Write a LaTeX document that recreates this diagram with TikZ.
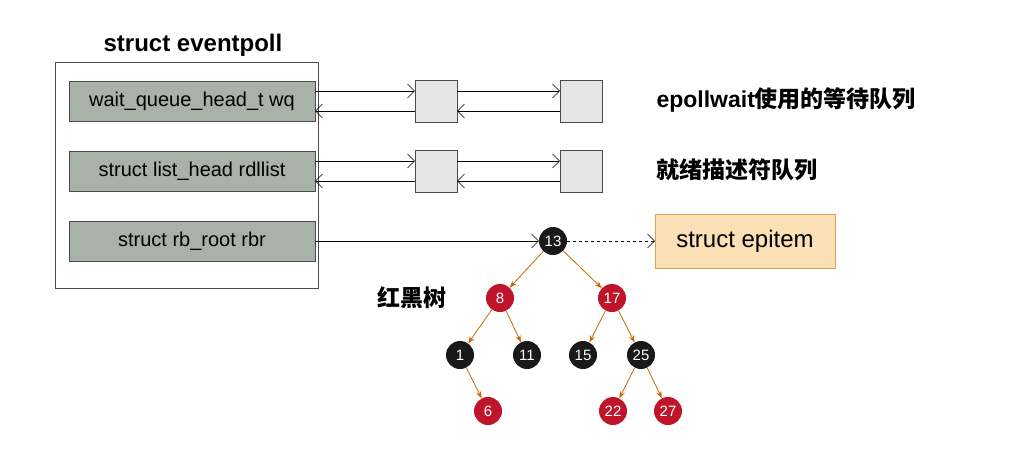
\documentclass[tikz,border=0pt]{standalone}
\usepackage{fontspec}
\setmainfont{Liberation Sans}
\newfontfamily\cjk{Noto Sans CJK SC}
\usetikzlibrary{arrows.meta}
\definecolor{fieldgray}{HTML}{A9B2A9}
\definecolor{redblk}{HTML}{C0142A}
\definecolor{epifill}{HTML}{FBE0B6}
\definecolor{epiline}{HTML}{E0A050}
\tikzset{
 field/.style={draw=black!70,fill=fieldgray,minimum width=246pt,minimum height=40pt,text height=14pt,text depth=4pt,font=\fontsize{20}{20}\selectfont},
 cell/.style={draw=black!70,fill=black!10,minimum size=42pt},
 blk/.style={circle,fill=black!90,text=white,minimum size=28pt,inner sep=0pt,font=\fontsize{15}{15}\selectfont},
 rd/.style={blk,fill=redblk},
 tedge/.style={-{Stealth[length=7pt]},draw=orange!80!black,thick},
 link/.style={-{Straight Barb[length=7pt]},thin}
}
\begin{document}
\begin{tikzpicture}[x=1pt,y=-1pt]
\useasboundingbox (0,0) rectangle (1013,450);

% eventpoll
\node[font=\fontsize{24}{24}\selectfont\bfseries] (title) at (193,45) {struct eventpoll};
\draw[black!70] (55,62) rectangle (318,288);
\node[field] (wq) at (192,101) {wait\_queue\_head\_t wq};
\node[field] (rdl) at (192,171) {struct list\_head rdllist};
\node[field] (rbr) at (192,241) {struct rb\_root rbr};

% lists
\node[cell] (wa) at (436,101) {};
\node[cell] (wb) at (581,101) {};
\node[cell] (ra) at (436,171) {};
\node[cell] (rb) at (581,171) {};
\foreach \l/\a/\b in {wq/wa/wb,rdl/ra/rb}{
 \draw[link] ([yshift=10pt]\l.east) -- ([yshift=10pt]\a.west);
 \draw[link] ([yshift=10pt]\a.east) -- ([yshift=10pt]\b.west);
 \draw[link] ([yshift=-10pt]\b.west) -- ([yshift=-10pt]\a.east);
 \draw[link] ([yshift=-10pt]\a.west) -- ([yshift=-10pt]\l.east);
}
\node[anchor=west,font=\fontsize{23}{23}\selectfont\bfseries] (wql) at (653,100) {epollwait{\cjk 使用的等待队列}};
\node[anchor=west,font=\fontsize{23}{23}\selectfont\cjk\bfseries] (rdll) at (653,170) {就绪描述符队列};

% tree
\node[blk] (n13) at (553,241) {13};
\node[draw=epiline,fill=epifill,minimum width=180pt,minimum height=54pt,font=\fontsize{24}{24}\selectfont] (epi) at (745,241) {struct epitem};
\draw[link] (rbr.east) -- (n13);
\draw[link,dashed] (n13) -- (epi);
\node[font=\fontsize{23}{23}\selectfont\cjk\bfseries] (rbt) at (412,298) {红黑树};
\node[rd] (n8) at (500,298) {8};
\node[rd] (n17) at (612,298) {17};
\node[blk] (n1) at (460,355) {1};
\node[blk] (n11) at (527,355) {11};
\node[blk] (n15) at (583,355) {15};
\node[blk] (n25) at (641,355) {25};
\node[rd] (n6) at (488,411) {6};
\node[rd] (n22) at (613,411) {22};
\node[rd] (n27) at (668,411) {27};
\foreach \p/\c in {n13/n8,n13/n17,n8/n1,n8/n11,n17/n15,n17/n25,n1/n6,n25/n22,n25/n27}
 \draw[tedge] (\p) -- (\c);
\end{tikzpicture}
\end{document}
